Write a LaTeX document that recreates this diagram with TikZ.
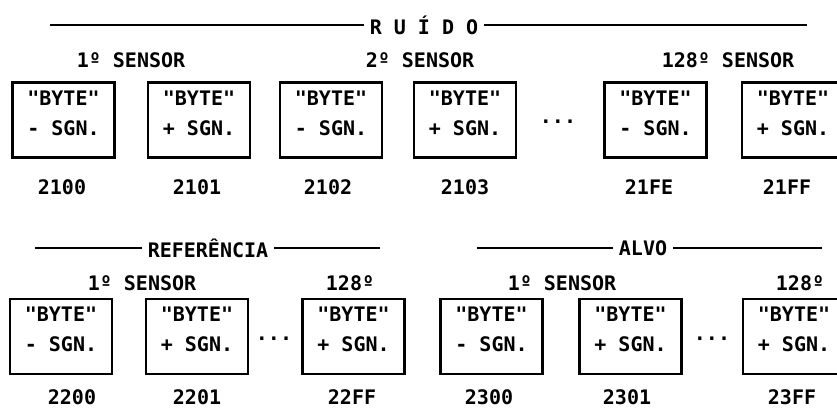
\documentclass[tikz,border=0pt]{standalone}
\usepackage{fontspec}
\setmonofont{DejaVu Sans Mono}
\usepackage{tikz}
\usetikzlibrary{positioning}
\tikzset{
    bytebox/.style={rectangle, draw=black, line width=2.2pt, minimum width=102pt, minimum height=75pt, align=center, font=\fontsize{20}{30}\selectfont\ttfamily\bfseries, inner sep=0pt, text depth=14pt},
    addr/.style={font=\fontsize{20}{24}\selectfont\ttfamily\bfseries, inner sep=0pt},
    heading/.style={font=\fontsize{20}{24}\selectfont\ttfamily\bfseries, inner sep=6pt},
    rule/.style={line width=2pt},
    gap/.style={font=\fontsize{20}{24}\selectfont\ttfamily\bfseries, inner sep=0pt}
}
\begin{document}
\begin{tikzpicture}[x=1pt, y=-1pt]
    \useasboundingbox (0,0) rectangle (837,408);

    % Ruido header
    \node[heading] (ruido) at (424,25) {R U Í D O};
    \coordinate (ruidoL) at (50,25);
    \coordinate (ruidoR) at (807,25);
    \draw[rule] (ruidoL) -- (ruido);
    \draw[rule] (ruido) -- (ruidoR);

    % Sensor labels, row 1
    \node[heading, inner sep=0pt] (s1) at (131,60) {1º SENSOR};
    \node[heading, inner sep=0pt] (s2) at (420,60) {2º SENSOR};
    \node[heading, inner sep=0pt] (s128) at (728,60) {128º SENSOR};

    % Bytes, row 1
    \node[bytebox] (r1) at (63.5,120) {"BYTE"\\- SGN.};
    \node[bytebox] (r2) at (199,120) {"BYTE"\\+ SGN.};
    \node[bytebox] (r3) at (331,120) {"BYTE"\\- SGN.};
    \node[bytebox] (r4) at (465,120) {"BYTE"\\+ SGN.};
    \node[gap] (rdots) at (558,122) {...};
    \node[bytebox] (r5) at (655.5,120) {"BYTE"\\- SGN.};
    \node[bytebox] (r6) at (793,120) {"BYTE"\\+ SGN.};

    % Addresses, row 1
    \node[addr] (a2100) at (62,187) {2100};
    \node[addr] (a2101) at (197,187) {2101};
    \node[addr] (a2102) at (328,187) {2102};
    \node[addr] (a2103) at (465,187) {2103};
    \node[addr] (a21FE) at (649,187) {21FE};
    \node[addr] (a21FF) at (787,187) {21FF};

    % Referencia header
    \node[heading] (refer) at (208,248) {REFERÊNCIA};
    \coordinate (referL) at (35,248);
    \coordinate (referR) at (380,248);
    \draw[rule] (referL) -- (refer);
    \draw[rule] (refer) -- (referR);

    % Alvo header
    \node[heading] (alvo) at (643,248) {ALVO};
    \coordinate (alvoL) at (477,248);
    \coordinate (alvoR) at (822,248);
    \draw[rule] (alvoL) -- (alvo);
    \draw[rule] (alvo) -- (alvoR);

    % Sensor labels, row 2
    \node[heading, inner sep=0pt] (fs1) at (142,283) {1º SENSOR};
    \node[heading, inner sep=0pt] (fs128) at (350,283) {128º};
    \node[heading, inner sep=0pt] (ts1) at (562,283) {1º SENSOR};
    \node[heading, inner sep=0pt] (ts128) at (800,283) {128º};

    % Bytes, row 2
    \node[bytebox] (f1) at (61,336.5) {"BYTE"\\- SGN.};
    \node[bytebox] (f2) at (197,336.5) {"BYTE"\\+ SGN.};
    \node[gap] (fdots) at (274,339) {...};
    \node[bytebox] (f3) at (353.5,336.5) {"BYTE"\\+ SGN.};
    \node[bytebox] (t1) at (491.5,336.5) {"BYTE"\\- SGN.};
    \node[bytebox] (t2) at (630.5,336.5) {"BYTE"\\+ SGN.};
    \node[gap] (tdots) at (712,339) {...};
    \node[bytebox] (t3) at (794,336.5) {"BYTE"\\+ SGN.};

    % Addresses, row 2
    \node[addr] (a2200) at (72,397) {2200};
    \node[addr] (a2201) at (197,397) {2201};
    \node[addr] (a22FF) at (352,397) {22FF};
    \node[addr] (a2300) at (489,397) {2300};
    \node[addr] (a2301) at (627,397) {2301};
    \node[addr] (a23FF) at (792,397) {23FF};
\end{tikzpicture}
\end{document}
